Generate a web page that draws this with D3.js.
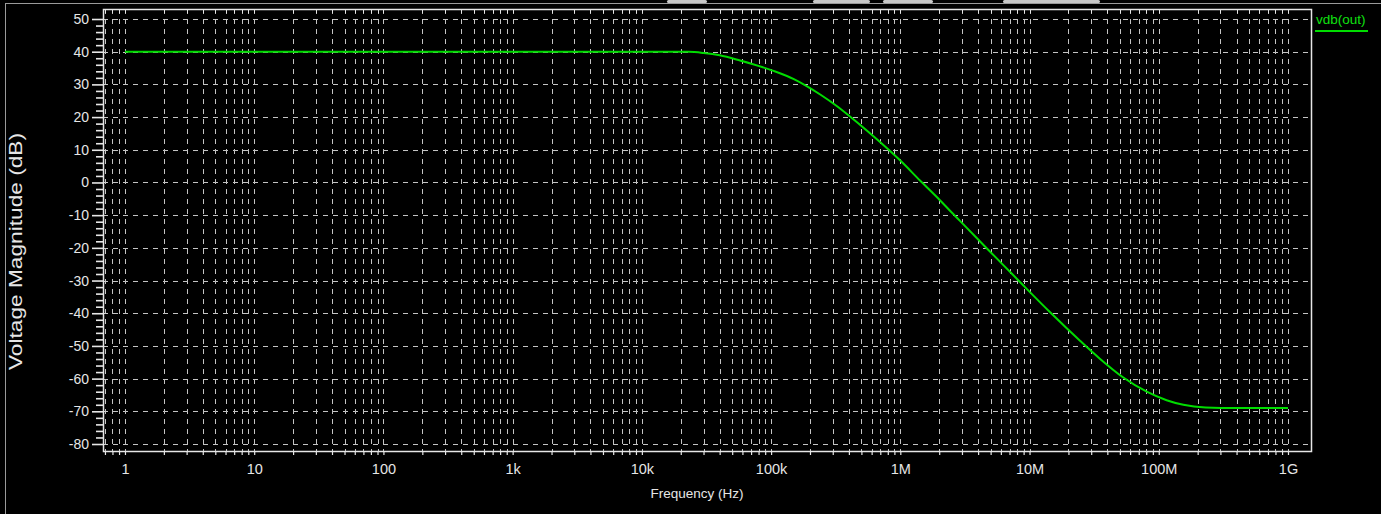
<!DOCTYPE html>
<html>
<head>
<meta charset="utf-8">
<script src="https://cdn.jsdelivr.net/npm/d3@7"></script>
<style>
  html, body { margin: 0; padding: 0; background: #000; overflow: hidden; }
  svg { display: block; }
</style>
</head>
<body>
<svg id="chart" width="1381" height="514"></svg>
<script>
// ---- data ----
const freqHz = [1, 10, 100, 1e3, 1e4, 2.3e4, 3e4, 4e4, 5.75e4, 1.03e5, 1.5e5, 1.9e5, 2.4e5, 3.24e5, 4.1e5, 5.5e5, 7e5, 1e6, 1.42e6, 2e6, 2.5e6, 3.2e6, 4.5e6, 6.5e6, 8.7e6, 1.45e7, 2.47e7, 3.5e7, 5.25e7, 8.07e7, 1.15e8, 1.55e8, 2.3e8, 4e8, 1e9];
const vdbOut = [40, 40, 40, 40, 40, 39.95, 39.6, 38.9, 37.3, 34.2, 31.6, 29.4, 26.9, 23.3, 20.1, 15.9, 12.3, 6.7, 0.6, -5.2, -9.2, -13.5, -19.5, -25.9, -31.0, -39.8, -48.5, -53.9, -59.5, -64.0, -66.6, -68.0, -68.8, -69, -69];
const xTickValues = [1, 10, 100, 1e3, 1e4, 1e5, 1e6, 1e7, 1e8, 1e9];
const xTickLabels = ["1", "10", "100", "1k", "10k", "100k", "1M", "10M", "100M", "1G"];
const yTickValues = [50, 40, 30, 20, 10, 0, -10, -20, -30, -40, -50, -60, -70, -80];
const yTickLabels = ["50", "40", "30", "20", "10", "0", "-10", "-20", "-30", "-40", "-50", "-60", "-70", "-80"];
const seriesName = "vdb(out)";
const xTitle = "Frequency (Hz)";
const yTitle = "Voltage Magnitude (dB)";

// ---- layout ----
const W = 1381, H = 514;
const plot = { left: 103, right: 1311, top: 9, bottom: 451 };
const grid = "#c4c4c4", ink = "#e6e6e6", green = "#00dc00";

const svg = d3.select("#chart");

// screenshot chrome
svg.append("rect").attr("x", 0).attr("y", 0).attr("width", W).attr("height", H).attr("fill", "#000");
[[667, 707], [813, 870], [883, 933], [1003, 1100]].forEach(([a, b]) => {
  svg.append("rect").attr("x", a).attr("y", 0).attr("width", b - a).attr("height", 3).attr("fill", "#c8c8c8").attr("rx", 1.5);
});
svg.append("line").attr("x1", 5).attr("x2", W).attr("y1", 3.5).attr("y2", 3.5).attr("stroke", "#9a9a9a").attr("stroke-width", 1);
svg.append("line").attr("x1", 5.5).attr("x2", 5.5).attr("y1", 3.5).attr("y2", H).attr("stroke", "#9a9a9a").attr("stroke-width", 1);

// scales
const x = d3.scaleLog().domain([0.676, 1.507e9]).range([plot.left, plot.right]);
const y = d3.scaleLinear().domain([53.06, -82.14]).range([plot.top, plot.bottom]);

// minor log positions inside the domain
const minorX = [];
for (let e = -1; e <= 9; e++) {
  for (let m = 1; m <= 9; m++) {
    const v = m * Math.pow(10, e);
    if (v > x.domain()[0] * 1.02 && v < x.domain()[1]) minorX.push(v);
  }
}

// grid
const g = svg.append("g");
g.selectAll("line.v").data(minorX).enter().append("line")
  .attr("x1", d => Math.round(x(d)) + 0.5).attr("x2", d => Math.round(x(d)) + 0.5)
  .attr("y1", plot.top).attr("y2", plot.bottom)
  .attr("stroke", grid).attr("stroke-width", 1).attr("stroke-dasharray", "5,5");
g.selectAll("line.h").data(yTickValues).enter().append("line")
  .attr("x1", plot.left).attr("x2", plot.right)
  .attr("y1", d => Math.round(y(d)) + 0.5).attr("y2", d => Math.round(y(d)) + 0.5)
  .attr("stroke", grid).attr("stroke-width", 1).attr("stroke-dasharray", "5,5");

// top inner ticks
g.selectAll("line.tt").data(minorX).enter().append("line")
  .attr("x1", d => Math.round(x(d)) + 0.5).attr("x2", d => Math.round(x(d)) + 0.5)
  .attr("y1", plot.top).attr("y2", plot.top + 4)
  .attr("stroke", ink).attr("stroke-width", 1);

// x axis
const xAxis = d3.axisBottom(x).tickValues(minorX).tickSize(4).tickPadding(6)
  .tickFormat(d => { const i = xTickValues.findIndex(v => Math.abs(v - d) / v < 1e-6); return i >= 0 ? xTickLabels[i] : ""; });
const gx = svg.append("g").attr("transform", `translate(0,${plot.bottom})`).call(xAxis);
gx.select(".domain").remove();
gx.selectAll(".tick line").attr("stroke", ink).attr("stroke-width", 1.2);
gx.selectAll(".tick text").attr("fill", ink).attr("font-family", "'Liberation Sans', Arial, sans-serif").attr("font-size", 14.5).attr("dy", "0.9em");

// y axis
const minorY = d3.range(-80, 51, 2);
const yAxis = d3.axisLeft(y).tickValues(minorY).tickSize(7).tickPadding(8)
  .tickFormat(d => { const i = yTickValues.indexOf(d); return i >= 0 ? yTickLabels[i] : ""; });
const gy = svg.append("g").attr("transform", `translate(${plot.left},0)`).call(yAxis);
gy.select(".domain").remove();
gy.selectAll(".tick line").attr("stroke", ink).attr("stroke-width", 1.6)
  .attr("x2", d => yTickValues.includes(d) ? -11 : -7);
gy.selectAll(".tick text").attr("fill", ink).attr("font-family", "'Liberation Sans', Arial, sans-serif").attr("font-size", 14).attr("x", -14);

// frame
svg.append("rect").attr("x", plot.left + 0.5).attr("y", plot.top + 0.5)
  .attr("width", plot.right - plot.left).attr("height", plot.bottom - plot.top)
  .attr("fill", "none").attr("stroke", ink).attr("stroke-width", 1.5);

// curve
const pts = freqHz.map((f, i) => ({ f, v: vdbOut[i] }));
const line = d3.line().x(d => x(d.f)).y(d => y(d.v)).curve(d3.curveMonotoneX);
svg.append("path").datum(pts).attr("d", line)
  .attr("fill", "none").attr("stroke", green).attr("stroke-width", 2);

// legend
svg.append("text").attr("x", 1316).attr("y", 24).text(seriesName)
  .attr("fill", "#10e010").attr("font-family", "'Liberation Sans', Arial, sans-serif").attr("font-size", 13.5);
svg.append("line").attr("x1", 1315).attr("x2", 1368).attr("y1", 31).attr("y2", 31)
  .attr("stroke", green).attr("stroke-width", 2);

// titles
svg.append("text").attr("x", 697).attr("y", 498).attr("text-anchor", "middle").text(xTitle)
  .attr("fill", ink).attr("font-family", "'Liberation Sans', Arial, sans-serif").attr("font-size", 13.5);
svg.append("text").attr("transform", "translate(22,251.5) rotate(-90)").attr("text-anchor", "middle").text(yTitle)
  .attr("fill", ink).attr("font-family", "'Liberation Sans', Arial, sans-serif").attr("font-size", 19)
  .attr("textLength", 237).attr("lengthAdjust", "spacingAndGlyphs");
</script>
</body>
</html>
